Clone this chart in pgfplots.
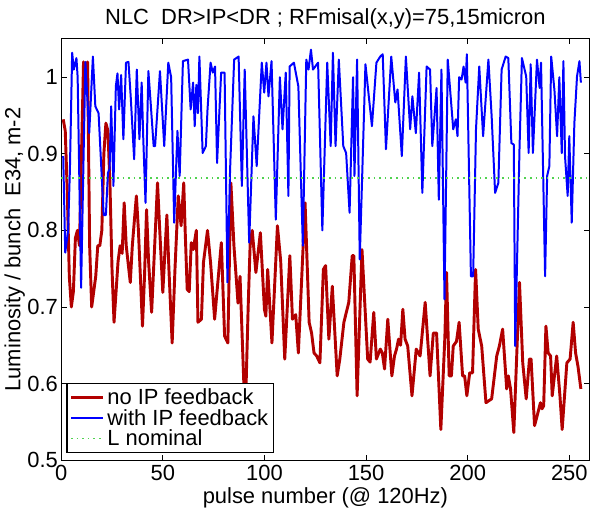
\documentclass[border=0pt]{standalone}
\usepackage{fontspec}
\setmainfont{Liberation Sans}
\usepackage{pgfplots}
\pgfplotsset{compat=1.18}
\definecolor{mred}{RGB}{178,0,0}
\definecolor{mgreen}{RGB}{80,210,80}

\begin{document}
\begin{tikzpicture}
\begin{axis}[
    at={(0,0)}, anchor=south west,
    scale only axis,
    width=397.7pt, height=317pt,
    xmin=0, xmax=260, ymin=0.5, ymax=1.05,
    xtick={0,50,100,150,200,250},
    xticklabels={0,50,100,150,200,250},
    ytick={0.5,0.6,0.7,0.8,0.9,1},
    yticklabels={0.5,0.6,0.7,0.8,0.9,1},
    tick align=inside,
    major tick length=4pt,
    axis line style={line width=0.8pt},
    tick style={line width=0.6pt, black},
    every tick label/.append style={font=\fontsize{16.5}{18}\selectfont},
    xticklabel style={yshift=0pt},
    yticklabel style={xshift=1pt},
    label style={font=\fontsize{16.5}{18}\selectfont},
    xlabel={pulse number (@ 120Hz)},
    ylabel={Luminosity / bunch\ \ E34, m-2},
    xlabel style={yshift=1.5pt},
    ylabel style={yshift=-5pt},
    title={NLC\ \ DR>IP<DR ; RFmisal(x,y)=75,15micron},
    title style={font=\fontsize{16.5}{18}\selectfont, yshift=-2pt},
    legend style={font=\fontsize{16.5}{16.5}\selectfont, at={(0.01,0.016)}, anchor=south west,
        draw=black, line width=0.8pt, row sep=-2pt, inner sep=2pt},
    legend cell align=left,
    legend image code/.code={\draw[#1] (0cm,0cm) -- (0.85cm,0cm);},
]
\addplot[mred, line width=2.2pt, line join=round] coordinates {
(1,0.945) (2,0.93) (3,0.85) (4,0.74) (5,0.70) (6,0.72) (7,0.79) (8,0.80) (9,0.78) (10,0.90)
(11,1.02) (12,0.99) (13,1.02) (14,0.78) (15,0.70) (16,0.72) (17,0.74) (18,0.78) (19,0.78) (20,0.80)
(21,0.90) (22,0.94) (23,0.93) (24,0.86) (25,0.75) (26,0.68) (27,0.72) (28,0.76) (29,0.78) (30,0.77)
(31,0.836) (32,0.78) (34,0.732) (35,0.78) (37,0.845) (38,0.80) (40,0.675) (41,0.74) (42,0.827) (43,0.76)
(44.5,0.693) (46,0.78) (47.4,0.862) (48.5,0.80) (50,0.719) (52,0.82) (53,0.75) (54.6,0.653) (56,0.75) (57.6,0.845)
(59,0.806) (60.3,0.862) (61,0.80) (62,0.723) (63,0.72) (64,0.784) (65,0.775) (66.5,0.80) (67.3,0.68) (69,0.684)
(70,0.758) (72,0.80) (73.5,0.758) (75.5,0.684) (77,0.73) (78.8,0.784) (80.4,0.662) (82,0.653) (83.5,0.862) (85,0.78)
(87,0.705) (88,0.74) (90,0.59) (91,0.60) (92,0.70) (93,0.784) (94,0.80) (95.8,0.745) (98,0.797) (100,0.697)
(100.7,0.688) (101.6,0.749) (103.7,0.653) (106.4,0.806) (108,0.76) (110,0.632) (112.5,0.767) (113.8,0.684) (115.4,0.69) (116.7,0.64)
(120,0.836) (122,0.68) (123.2,0.666) (124.4,0.64) (125.7,0.636) (127.3,0.627) (129,0.749) (130.1,0.754) (131.7,0.658) (133.4,0.727)
(135.8,0.61) (137.1,0.632) (139.1,0.68) (141.5,0.706) (143.2,0.767) (144,0.767) (145.6,0.584) (148,0.775) (150.8,0.632) (152,0.628)
(153.8,0.693) (155.1,0.632) (157,0.645) (158,0.64) (159.1,0.619) (160.7,0.684) (162.7,0.61) (164,0.636) (165,0.645) (166,0.658)
(167,0.65) (168.1,0.697) (169.2,0.658) (170.5,0.649) (172.6,0.584) (174.7,0.645) (176.6,0.636) (179.1,0.706) (181.5,0.61) (183.1,0.666)
(184.7,0.666) (186.8,0.54) (188.8,0.662) (189.6,0.745) (190.9,0.61) (192,0.61) (192.9,0.649) (194.5,0.655) (195.8,0.68) (197.5,0.61)
(198.5,0.61) (199.6,0.584) (201,0.614) (202.4,0.614) (203.9,0.749) (205.2,0.671) (206.9,0.649) (209,0.575) (211.8,0.58) (214.3,0.636)
(215.6,0.649) (217.2,0.671) (219.2,0.593) (220,0.61) (221.1,0.593) (222.7,0.536) (225.5,0.732) (227.1,0.627) (228.8,0.58) (230.4,0.632)
(231.2,0.632) (232.9,0.545) (234.2,0.558) (235.8,0.575) (236.6,0.567) (237.4,0.571) (238.5,0.675) (239.6,0.64) (240.8,0.636) (241.6,0.584)
(243.8,0.636) (245.4,0.584) (246.5,0.54) (248.8,0.627) (250.4,0.632) (251.9,0.68) (253.1,0.64) (254.3,0.622) (255.7,0.593)
};
\addlegendentry{no IP feedback}
\addplot[blue, line width=1.5pt, line join=round] coordinates {
(1,0.897) (2,0.771) (3.4,0.80) (4.3,0.88) (5.4,1.032) (6.2,1.01) (7.5,1.025) (8.1,1.0) (9.8,0.725) (11.9,1.02)
(13.8,0.927) (15.6,1.027) (16.8,0.962) (18.4,0.953) (20.9,0.82) (22,0.82) (23,0.875) (23.8,0.88) (24.6,0.962) (25.7,0.858)
(26.9,0.988) (27.7,1.005) (28.5,0.958) (29.5,1.003) (30.6,0.919) (31.9,1.019) (33.1,1.02) (34.2,0.975) (35.9,0.893) (37.2,1.01)
(38.5,0.919) (39.6,0.993) (40.4,0.919) (41.5,0.836) (42.9,1.008) (43.8,0.975) (45.5,0.91) (46.2,0.91) (48.6,1.008) (50.7,0.91)
(52.7,1.019) (54.1,1.0) (55.6,0.81) (57.2,0.93) (58.3,0.871) (59.9,1.021) (62.4,1.023) (63.7,0.958) (64.9,0.993) (65.7,0.936)
(66.5,0.99) (67.3,0.953) (68,1.027) (69.6,0.901) (71.2,0.91) (72,0.958) (73.5,1.019) (74.6,1.006) (75.7,1.014) (76.7,0.888)
(78.7,1.006) (80.4,1.006) (81.8,0.732) (83.1,0.879) (85.1,1.023) (87.3,1.027) (88.9,0.858) (90.3,1.01) (92.5,0.784) (94.6,0.949)
(96.2,0.884) (98.7,1.019) (99.9,0.98) (101,1.019) (102,0.975) (103.5,1.021) (105.6,0.814) (107.6,1.0) (108.9,0.932) (110.5,1.006)
(111.8,0.845) (112.4,1.014) (114.5,1.019) (116.7,0.988) (118.9,0.78) (120.6,1.023) (121.7,1.01) (122.9,1.036) (123.9,1.01) (126.4,1.019)
(128.5,0.80) (130.9,1.019) (132.6,0.91) (133.7,1.032) (135,0.91) (136.6,1.023) (138.8,0.91) (140.2,0.901) (141.9,0.823) (143.6,1.0)
(144.3,0.871) (145.6,1.023) (146.9,0.762) (149.7,1.017) (152.9,0.936) (155.1,1.019) (157,1.027) (158.2,1.03) (159.8,0.906) (162.4,1.027)
(164.4,0.967) (165.5,0.984) (167.6,0.897) (169.6,1.027) (171.7,0.932) (172.8,0.975) (174.5,0.927) (176.1,1.006) (177.7,0.849) (179.8,1.014)
(181.5,1.01) (182.6,0.91) (184.7,0.986) (185.8,0.84) (187.1,1.01) (188.6,0.71) (190.2,1.023) (192.9,0.932) (194.2,0.945) (195,0.923)
(195.8,1.0) (197,0.997) (198,1.014) (199,0.993) (199.6,1.03) (201.6,0.74) (202.7,0.74) (204.1,0.932) (205.7,1.014) (207.6,0.923)
(210.2,1.023) (211.8,0.949) (213.5,0.849) (215.1,0.862) (216.7,1.01) (218.7,1.027) (220,1.025) (221.5,0.914) (222.7,0.912) (223.4,0.649)
(225.5,0.906) (226.7,1.025) (228.8,1.001) (230,0.901) (231,1.017) (232.1,0.901) (234.1,1.023) (235.4,0.986) (236.1,1.019) (238.1,0.74)
(239.1,0.871) (240.2,0.884) (241.1,1.027) (242.7,0.983) (244,0.923) (245.1,1.0) (246.3,0.901) (247.1,1.021) (247.9,0.897) (249.2,0.845)
(250,0.923) (251.2,0.81) (252.5,0.94) (253.8,1.001) (255,1.021) (255.7,0.993)
};
\addlegendentry{with IP feedback}
\addplot[mgreen, line width=1.3pt, dash pattern=on 1.2pt off 3pt] coordinates {(0,0.868) (260,0.868)};
\addlegendentry{L nominal}
\end{axis}
\useasboundingbox (-45.5pt,-33.2pt) rectangle (398.5pt,346.3pt);
\end{tikzpicture}
\end{document}
